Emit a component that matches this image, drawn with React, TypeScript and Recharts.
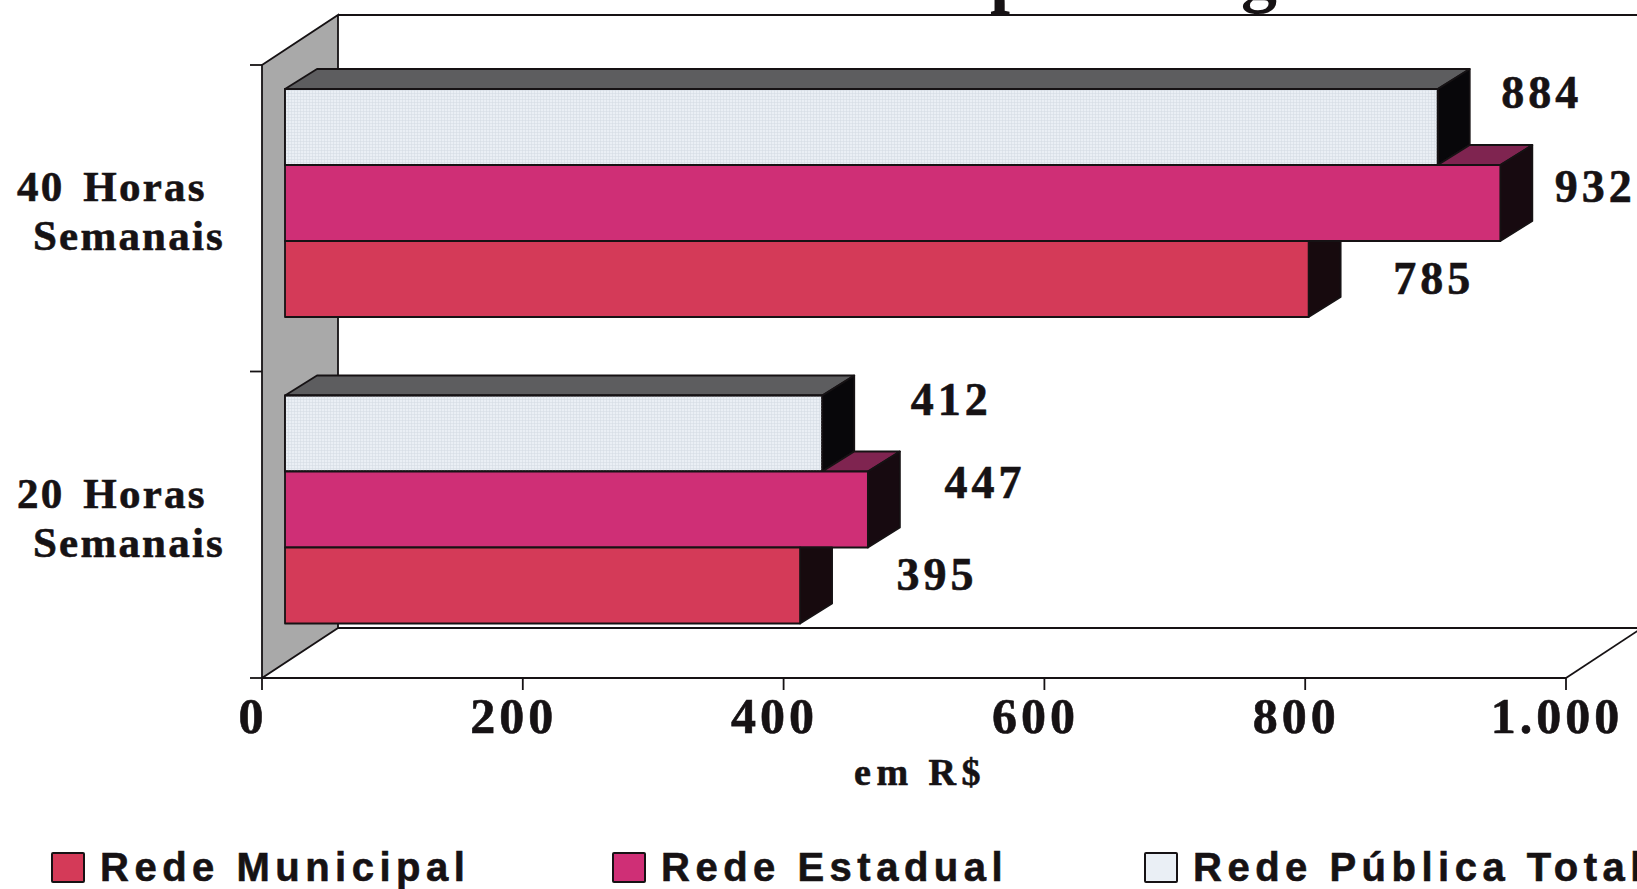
import { BarChart, Bar, XAxis, YAxis, LabelList, Legend, usePlotArea } from "recharts";

const categories = ["40 Horas Semanais", "20 Horas Semanais"];
const redeMunicipal = [785, 395];
const redeEstadual = [932, 447];
const redePublicaTotal = [884, 412];
const xTicks = [0, 200, 400, 600, 800, 1000];

const chartData = categories.map((name, i) => ({
  name,
  municipal: redeMunicipal[i],
  estadual: redeEstadual[i],
  total: redePublicaTotal[i],
}));

const serif = "'Liberation Serif', serif";
const sans = "'Liberation Sans', sans-serif";
const ink = "#161214";

// the "3D" box: how far the wall goes back, and where bars sit inside that depth
const wallX = 76;
const wallY = 50;
const barX = 23;
const barY = 15;
const depthX = 32;
const depthY = 20;

// labels were hand placed in the original, so each one is nudged from its bar end
const labelNudge: Record<string, number[][]> = {
  total: [[104, -34], [129, -34]],
  estadual: [[95, -16], [117, -27]],
  municipal: [[125, 0], [137, -11]],
};
const legendLefts = [51, 612, 1144];

function pts(list: number[][]) {
  return list.map((p) => p.join(",")).join(" ");
}

function Backdrop() {
  const plot = usePlotArea();
  if (!plot) return null;
  const { x, y, width, height } = plot;
  const right = x + width;
  const bottom = y + height;
  return (
    <g stroke={ink} strokeWidth={1.8} fill="none">
      <defs>
        <pattern id="halftone" width={3} height={3} patternUnits="userSpaceOnUse">
          <rect width={1} height={3} fill="#d3dbe4" stroke="none" opacity={0.55} />
          <rect width={3} height={1} fill="#d3dbe4" stroke="none" opacity={0.55} />
        </pattern>
      </defs>
      <polygon
        points={pts([[x, y], [x + wallX, y - wallY], [x + wallX, bottom - wallY], [x, bottom]])}
        fill="#a9a9a9"
      />
      <line x1={x + wallX} y1={y - wallY} x2={right + wallX} y2={y - wallY} />
      <line x1={x + wallX} y1={bottom - wallY} x2={right + wallX} y2={bottom - wallY} />
      <line x1={right} y1={bottom} x2={right + wallX} y2={bottom - wallY} />
      {[0, 1, 2].map((i) => (
        <line key={i} x1={x - 12} y1={y + (i * height) / 2} x2={x} y2={y + (i * height) / 2} />
      ))}
    </g>
  );
}

function makeBarShape(top: string, side: string, upperKey: string | null) {
  return function BarShape(props: any) {
    const { x, y, width, height, fill, value, payload } = props;
    const fx = x + barX;
    const fy = y - barY;
    const end = fx + width;
    const upperEnd = upperKey ? fx + (payload[upperKey] * width) / value : fx;
    // a bar above hides part of this bar's top and side, so only the visible part is drawn
    const topStart = Math.max(fx, upperEnd);
    const trimSide = upperKey !== null && upperEnd > end;
    const sidePoints = trimSide
      ? [[end, fy], [end + depthX, fy], [end + depthX, fy + height - depthY], [end, fy + height]]
      : [[end, fy], [end + depthX, fy - depthY], [end + depthX, fy + height - depthY], [end, fy + height]];
    return (
      <g stroke={ink} strokeWidth={1.8} strokeLinejoin="round">
        {topStart < end && (
          <polygon
            points={pts([[topStart, fy], [end, fy], [end + depthX, fy - depthY], [topStart + depthX, fy - depthY]])}
            fill={top}
          />
        )}
        <polygon points={pts(sidePoints)} fill={side} />
        <rect x={fx} y={fy} width={width} height={height} fill={fill} />
        {upperKey === null && <rect x={fx} y={fy} width={width} height={height} fill="url(#halftone)" />}
      </g>
    );
  };
}

function makeValueLabel(key: string) {
  return function ValueLabel(props: any) {
    const { x, y, width, height, value, index } = props;
    const [nx, ny] = labelNudge[key][index];
    return (
      <text
        x={x + width + barX + nx}
        y={y - barY + height / 2 + ny + 15}
        textAnchor="middle"
        fontFamily={serif}
        fontWeight={700}
        fontSize={46}
        letterSpacing={4}
        fill={ink}
        stroke={ink}
        strokeWidth={0.6}
      >
        {value}
      </text>
    );
  };
}

function CategoryTick({ y, payload }: any) {
  const words = String(payload.value).split(" ");
  const style = { fontFamily: serif, fontWeight: 700, fontSize: 43, letterSpacing: 2.2, fill: ink, stroke: ink, strokeWidth: 0.6 };
  return (
    <g>
      <text x={17} y={y - 17} style={{ ...style, wordSpacing: 6 }}>
        {words[0] + " " + words[1]}
      </text>
      <text x={33} y={y + 32} style={style}>
        {words[2]}
      </text>
    </g>
  );
}

function ValueTick({ x, y, payload }: any) {
  return (
    <text
      x={x - 9}
      y={y + 41}
      textAnchor="middle"
      fontFamily={serif}
      fontWeight={700}
      fontSize={50}
      letterSpacing={4}
      fill={ink}
      stroke={ink}
      strokeWidth={0.6}
    >
      {payload.value >= 1000 ? "1.000" : payload.value}
    </text>
  );
}

function LegendRow({ payload }: any) {
  const items = [...(payload || [])].reverse();
  return (
    <div style={{ position: "relative", width: 1637, height: 37 }}>
      {items.map((item: any, i: number) => (
        <div key={item.value} style={{ position: "absolute", left: legendLefts[i], top: 0, display: "flex", whiteSpace: "nowrap" }}>
          <span
            style={{
              width: 30,
              height: 27,
              background: item.color,
              border: "2px solid " + ink,
              borderRadius: 2,
              marginRight: 15,
            }}
          />
          <span
            style={{
              fontFamily: sans,
              fontWeight: 700,
              fontSize: 40,
              lineHeight: "30px",
              letterSpacing: 5.5,
              color: ink,
              WebkitTextStroke: "0.6px " + ink,
            }}
          >
            {item.value}
          </span>
        </div>
      ))}
    </div>
  );
}

export default function App() {
  return (
    <div style={{ position: "fixed", left: 0, top: 0, width: 1637, height: 889, overflow: "hidden", background: "#fff" }}>
      <BarChart
        width={1637}
        height={889}
        data={chartData}
        layout="vertical"
        margin={{ top: 65, right: 71, bottom: 0, left: 0 }}
        barSize={76}
        barGap={0}
      >
        <Backdrop />
        {/* what is left of the cropped title: the two descenders above the frame */}
        <text x={990} y={-1} fontFamily={serif} fontWeight={700} fontSize={72} fill={ink}>p</text>
        <text x={1241} y={-1} fontFamily={serif} fontWeight={700} fontSize={72} fill={ink}>g</text>
        <XAxis
          type="number"
          domain={[0, 1000]}
          ticks={xTicks}
          interval={0}
          height={211}
          tick={<ValueTick />}
          tickSize={12}
          stroke={ink}
          strokeWidth={1.8}
          label={{
            value: "em R$",
            position: "insideTop",
            offset: 80,
            dx: 6,
            style: { fontFamily: serif, fontWeight: 700, fontSize: 38, letterSpacing: 5.5, fill: ink, stroke: ink, strokeWidth: 0.6 },
          }}
        />
        <YAxis type="category" dataKey="name" width={262} axisLine={false} tickLine={false} interval={0} tick={<CategoryTick />} />
        <Legend
          layout="horizontal"
          align="center"
          verticalAlign="middle"
          itemSorter={null}
          wrapperStyle={{ left: 0, top: 852, width: 1637 }}
          content={<LegendRow />}
        />
        <Bar
          dataKey="total"
          name="Rede Pública Total"
          fill="#eaeff5"
          isAnimationActive={false}
          shape={makeBarShape("#5d5d5f", "#08070a", null)}
        >
          <LabelList dataKey="total" content={makeValueLabel("total")} />
        </Bar>
        <Bar
          dataKey="estadual"
          name="Rede Estadual"
          fill="#cf2f76"
          isAnimationActive={false}
          shape={makeBarShape("#7f2450", "#170a10", "total")}
        >
          <LabelList dataKey="estadual" content={makeValueLabel("estadual")} />
        </Bar>
        <Bar
          dataKey="municipal"
          name="Rede Municipal"
          fill="#d43a58"
          isAnimationActive={false}
          shape={makeBarShape("#7a2233", "#170a0e", "estadual")}
        >
          <LabelList dataKey="municipal" content={makeValueLabel("municipal")} />
        </Bar>
      </BarChart>
    </div>
  );
}
